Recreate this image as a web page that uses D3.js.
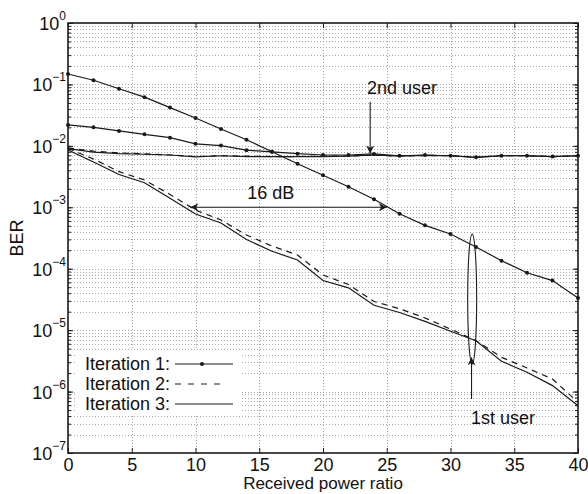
<!DOCTYPE html>
<html><head><meta charset="utf-8">
<script src="https://cdn.jsdelivr.net/npm/d3@7"></script>
<style>
body{margin:0;background:#fff}
text{font-family:"Liberation Sans",Arial,Helvetica,sans-serif;fill:#111}
</style>
</head><body>
<svg id="c" width="588" height="494"></svg>
<script>
// ---- data ----
const powerRatio = [0,2,4,6,8,10,12,14,16,18,20,22,24,26,28,30,32,34,36,38,40];
const iter1User1 = [0.148,0.117,0.085,0.062,0.042,0.0284,0.0188,0.0126,0.0080,0.0051,0.00332,0.00216,0.00135,7.85e-4,5.08e-4,3.67e-4,2.26e-4,1.35e-4,8.6e-5,6.4e-5,3.34e-5];
const iter1User2 = [0.0219,0.0200,0.0175,0.0154,0.0136,0.0108,0.0101,0.0085,0.0080,0.00745,0.0071,0.0071,0.0074,0.0069,0.0071,0.0069,0.0065,0.0069,0.0069,0.0067,0.0069];
const iter2User1 = [9.06e-3,6.11e-3,3.8e-3,2.78e-3,1.62e-3,9.04e-4,6.21e-4,3.54e-4,2.34e-4,1.67e-4,7.9e-5,5.53e-5,2.93e-5,2.23e-5,1.58e-5,1.04e-5,6.73e-6,3.61e-6,2.42e-6,1.60e-6,6.69e-7];
const iter2User2 = [9.3e-3,8.2e-3,7.7e-3,7.4e-3,7.1e-3,6.7e-3,6.9e-3,6.8e-3,6.7e-3,6.7e-3,6.8e-3,6.8e-3,7.1e-3,6.8e-3,7.0e-3,6.9e-3,6.6e-3,6.9e-3,6.9e-3,6.7e-3,6.9e-3];
const iter3User1 = [8.57e-3,5.46e-3,3.42e-3,2.51e-3,1.40e-3,7.78e-4,5.55e-4,2.99e-4,1.92e-4,1.39e-4,6.43e-5,4.89e-5,2.54e-5,1.94e-5,1.39e-5,9.58e-6,6.73e-6,3.11e-6,2.06e-6,1.25e-6,5.89e-7];
const iter3User2 = [9.0e-3,7.9e-3,7.5e-3,7.3e-3,7.1e-3,6.6e-3,6.9e-3,6.7e-3,6.7e-3,6.7e-3,6.7e-3,6.8e-3,7.1e-3,6.8e-3,7.0e-3,6.9e-3,6.5e-3,6.9e-3,6.9e-3,6.7e-3,6.9e-3];
const xTicks = [0,5,10,15,20,25,30,35,40];
const yExponents = [0,-1,-2,-3,-4,-5,-6,-7];
const legendLabels = ["Iteration 1:","Iteration 2:","Iteration 3:"];
const xLabel = "Received power ratio";
const yLabel = "BER";

// ---- layout ----
const svg = d3.select("#c");
const L = 68, R = 578, T = 23, B = 453;
const x = d3.scaleLinear().domain([0,40]).range([L,R]);
const y = d3.scaleLog().domain([1e-7,1]).range([B,T]);
const ink = "#1a1a1a";

// minor values for log grid
const minorVals = [];
yExponents.slice(1).forEach(e => { for (let k=1;k<=9;k++) minorVals.push(k*Math.pow(10,e)); });
const majorVals = yExponents.map(e => Math.pow(10,e));

// grid
const grid = svg.append("g").attr("stroke","#a8a8a8").attr("stroke-width",1).attr("stroke-dasharray","1,2");
grid.selectAll("line.h").data(minorVals.filter(v => v>1e-7 && v<1)).enter().append("line")
  .attr("x1",L).attr("x2",R).attr("y1",d=>Math.round(y(d))+0.5).attr("y2",d=>Math.round(y(d))+0.5);
grid.selectAll("line.v").data(xTicks.filter(v=>v>0&&v<40)).enter().append("line")
  .attr("y1",T).attr("y2",B).attr("x1",d=>Math.round(x(d))+0.5).attr("x2",d=>Math.round(x(d))+0.5);

// axes (ticks inward)
const axB = svg.append("g").attr("transform",`translate(0,${B})`)
  .call(d3.axisBottom(x).tickValues(xTicks).tickSize(-5).tickPadding(5).tickFormat(d3.format("d")));
const axT = svg.append("g").attr("transform",`translate(0,${T})`)
  .call(d3.axisTop(x).tickValues(xTicks).tickSize(-5).tickFormat(""));
const axL = svg.append("g").attr("transform",`translate(${L},0)`)
  .call(d3.axisLeft(y).tickValues(majorVals).tickSize(-5).tickFormat(""));
const axLm = svg.append("g").attr("transform",`translate(${L},0)`)
  .call(d3.axisLeft(y).tickValues(minorVals).tickSize(-3).tickFormat(""));
const axR = svg.append("g").attr("transform",`translate(${R},0)`)
  .call(d3.axisRight(y).tickValues(majorVals).tickSize(-5).tickFormat(""));
const axRm = svg.append("g").attr("transform",`translate(${R},0)`)
  .call(d3.axisRight(y).tickValues(minorVals).tickSize(-3).tickFormat(""));
[axB,axT,axL,axLm,axR,axRm].forEach(a=>{
  a.select(".domain").remove();
  a.selectAll("line").attr("stroke",ink);
  a.selectAll("text").attr("font-size",18).attr("font-family","Liberation Sans, Arial, sans-serif").attr("fill","#111");
});

// y tick labels with superscripts
const yl = svg.append("g");
yExponents.forEach(e=>{
  const t = yl.append("text").attr("x",L-2).attr("y",y(Math.pow(10,e))+7).attr("text-anchor","end").attr("font-size",18);
  t.append("tspan").text("10");
  t.append("tspan").attr("dy",-10).attr("font-size",12).text(e<0?"\u2212"+(-e):String(e));
});

// axis titles
svg.append("text").attr("x",(L+R)/2).attr("y",489).attr("text-anchor","middle").attr("font-size",17).text(xLabel);
svg.append("text").attr("transform",`translate(23,${(T+B)/2}) rotate(-90)`).attr("text-anchor","middle").attr("font-size",18).text(yLabel);

// series
const line = d3.line().x((d,i)=>x(powerRatio[i])).y(d=>y(d));
const series = [
  {v:iter1User1, dash:null, marker:true},
  {v:iter1User2, dash:null, marker:true},
  {v:iter2User1, dash:"6,5", marker:false},
  {v:iter2User2, dash:"6,5", marker:false},
  {v:iter3User1, dash:null, marker:false},
  {v:iter3User2, dash:null, marker:false}
];
const sg = svg.append("g");
series.forEach(s=>{
  sg.append("path").datum(s.v).attr("d",line).attr("fill","none").attr("stroke",ink)
    .attr("stroke-width",1.2).attr("stroke-dasharray",s.dash);
  if (s.marker) sg.selectAll(null).data(s.v).enter().append("circle")
    .attr("cx",(d,i)=>x(powerRatio[i])).attr("cy",d=>y(d)).attr("r",2).attr("fill",ink);
});

// frame
svg.append("rect").attr("x",L).attr("y",T).attr("width",R-L).attr("height",B-T)
  .attr("fill","none").attr("stroke",ink).attr("stroke-width",1.6);

// arrow markers
const defs = svg.append("defs");
defs.append("marker").attr("id","ah").attr("viewBox","0 0 10 10").attr("refX",10).attr("refY",5)
  .attr("markerWidth",10).attr("markerHeight",8).attr("markerUnits","userSpaceOnUse").attr("orient","auto-start-reverse")
  .append("path").attr("d","M0,0 L10,5 L0,10 L3,5 Z").attr("fill",ink);

// annotations
const ann = svg.append("g").attr("stroke",ink).attr("stroke-width",1.1).attr("fill","none");
ann.append("line").attr("x1",x(9.6)).attr("x2",x(25.0)).attr("y1",y(1e-3)).attr("y2",y(1e-3))
  .attr("marker-start","url(#ah)").attr("marker-end","url(#ah)");
svg.append("text").attr("x",x(15.9)).attr("y",y(1.36e-3)).attr("text-anchor","middle").attr("font-size",18).text("16 dB");

ann.append("line").attr("x1",x(23.7)).attr("x2",x(23.7)).attr("y1",y(0.0524)).attr("y2",y(7.5e-3))
  .attr("marker-end","url(#ah)");
svg.append("text").attr("x",x(26.2)).attr("y",y(0.0698)).attr("text-anchor","middle").attr("font-size",18).text("2nd user");

ann.append("ellipse").attr("cx",x(31.7)).attr("cy",y(3.2e-5)).attr("rx",4.5).attr("ry",65);
ann.append("line").attr("x1",x(31.65)).attr("x2",x(31.65)).attr("y1",y(7.57e-7)).attr("y2",y(3.6e-6))
  .attr("marker-end","url(#ah)");
svg.append("text").attr("x",x(31.6)).attr("y",y(2.97e-7)).attr("text-anchor","start").attr("font-size",18).text("1st user");

// legend
const lg = svg.append("g");
lg.append("rect").attr("x",77).attr("y",350).attr("width",165).attr("height",66).attr("fill","#fff");
legendLabels.forEach((lab,i)=>{
  const by = 370 + i*20;
  lg.append("text").attr("x",85).attr("y",by).attr("font-size",18).text(lab);
  const ly = by - 6;
  lg.append("line").attr("x1",175).attr("x2",i===1?226:233).attr("y1",ly).attr("y2",ly)
    .attr("stroke",ink).attr("stroke-width",1.1).attr("stroke-dasharray",i===1?"6,7":null);
  if (i===0) lg.append("circle").attr("cx",202).attr("cy",ly).attr("r",2).attr("fill",ink);
});
</script>
</body></html>
